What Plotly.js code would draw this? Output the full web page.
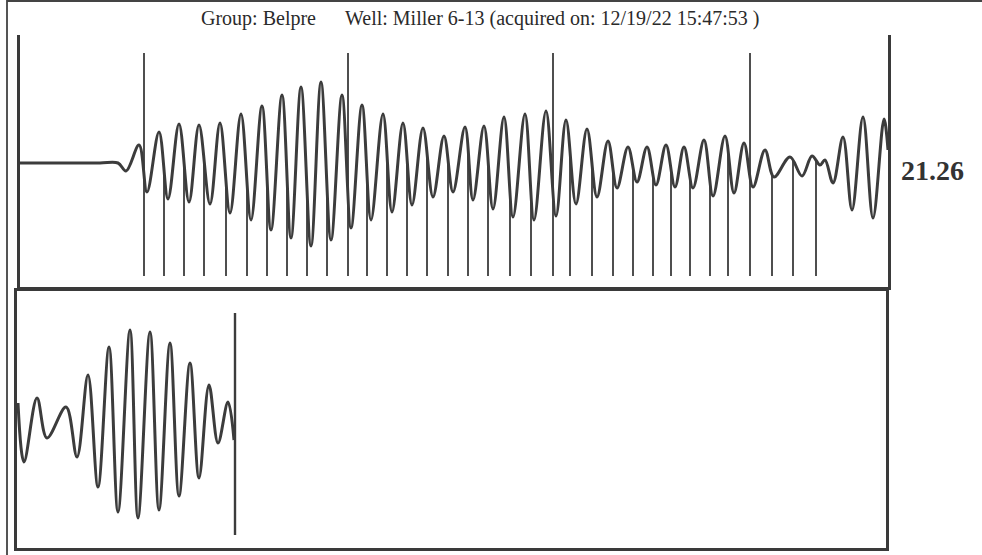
<!DOCTYPE html>
<html><head><meta charset="utf-8">
<script src="https://cdn.plot.ly/plotly-3.0.1.min.js"></script>
<style>html,body{margin:0;padding:0;background:#fff}#chart{width:982px;height:555px}</style>
</head><body><div id="chart"></div>
<script>
// ---- Data (sample position, amplitude) ----
// Upper panel: acoustic shot trace (extreme points of the waveform)
const topX = [0,40,80,98,106,119,127,139,148,159,169,179,190,200,210,221,231,242,251,262,271,281,291,301,311,322,331,342,351,363,372,383,392,403,413,424,433,445,453,464,473,484,493,505,514,526,536,546,556,567,577,588,597,608,617,627,636,646,655,664,673,684,693,705,714,724,733,745,754,770,782,792,800,805,813,823,832,843,853,864,868];
const topY = [0,0,0,0,-8,18,-29,31,-36,39,-39,38,-41,40,-50,49,-57,57,-67,68,-75,76,-83,81,-77,68,-65,58,-57,49,-49,40,-42,35,-34,27,-29,36,-37,37,-46,46,-54,49,-57,52,-53,43,-41,34,-34,22,-25,16,-19,16,-22,18,-24,16,-25,23,-33,27,-30,20,-24,13,-14,6,-13,7,-2,3,-20,26,-47,46,-55,44,13];
// Upper panel: collar (joint) markers
const jointShortX = [144,164,184,206,227,247,267,287,307,347,367,387,407,428,448,468,490,511,550,572,593,613,633,651,670,690,708,752,773,796];
const jointTallX = [124,328,533,730];
const jointBottom = -113;
const jointTallTop = 110;
// Lower panel: trace around the selected echo
const botX = [1,7,20,30,49,60,71,81,92,101,113,121,133,142,153,162,173,182,192,201,211,217];
const botY = [21,-38,26,-14,17,-33,49,-63,77,-88,94,-94,92,-86,81,-72,61,-54,39,-19,22,-16];
const botMarkX = [218];
const botMarkRange = [-111, 111];
// Texts
const titleGroup = "Group: Belpre";
const titleWell = "Well: Miller 6-13 (acquired on: 12/19/22 15:47:53 )";
const readout = "21.26";

// ---- helpers ----
function traceAt(xs, ys, x) {
  for (let i = 0; i < xs.length - 1; i++) {
    if (x >= xs[i] && x <= xs[i + 1]) {
      const t = (x - xs[i]) / (xs[i + 1] - xs[i]);
      return ys[i] + (ys[i + 1] - ys[i]) * (1 - Math.cos(Math.PI * t)) / 2;
    }
  }
  return ys[ys.length - 1];
}
function segs(xs, y0f, y1f) {
  const X = [], Y = [];
  xs.forEach(x => { X.push(x, x, null); Y.push(y0f(x), y1f(x), null); });
  return {X, Y};
}

const ink = '#3c3c3c';
const shortSeg = segs(jointShortX, () => jointBottom, x => traceAt(topX, topY, x));
const tallSeg = segs(jointTallX, () => jointBottom, () => jointTallTop);
const botSeg = segs(botMarkX, () => botMarkRange[0], () => botMarkRange[1]);

const data = [
  {x: shortSeg.X, y: shortSeg.Y, xaxis: 'x', yaxis: 'y', mode: 'lines', line: {color: ink, width: 1.8}, hoverinfo: 'skip'},
  {x: tallSeg.X, y: tallSeg.Y, xaxis: 'x', yaxis: 'y', mode: 'lines', line: {color: ink, width: 1.8}, hoverinfo: 'skip'},
  {x: topX, y: topY, xaxis: 'x', yaxis: 'y', mode: 'lines', line: {color: ink, width: 3, shape: 'spline', smoothing: 1}, hoverinfo: 'skip'},
  {x: botX, y: botY, xaxis: 'x2', yaxis: 'y2', mode: 'lines', line: {color: ink, width: 3, shape: 'spline', smoothing: 1}, hoverinfo: 'skip'},
  {x: botSeg.X, y: botSeg.Y, xaxis: 'x2', yaxis: 'y2', mode: 'lines', line: {color: ink, width: 2.4}, hoverinfo: 'skip'}
];

const W = 982, H = 555;
const ax = {showgrid: false, zeroline: false, showticklabels: false, ticks: '', showline: true, linecolor: '#3a3a3a', linewidth: 3, fixedrange: true};
const serif = 'Liberation Serif, Times New Roman, serif';
const layout = {
  width: W, height: H,
  margin: {l: 0, r: 0, t: 0, b: 0},
  paper_bgcolor: '#ffffff', plot_bgcolor: '#ffffff',
  showlegend: false,
  xaxis: Object.assign({}, ax, {domain: [20 / W, 888 / W], range: [0, 868], mirror: false, anchor: 'y'}),
  yaxis: Object.assign({}, ax, {domain: [1 - 287 / H, 1 - 35 / H], range: [-124, 128], mirror: true, anchor: 'x'}),
  xaxis2: Object.assign({}, ax, {domain: [17 / W, 886 / W], range: [0, 869], mirror: true, anchor: 'y2'}),
  yaxis2: Object.assign({}, ax, {domain: [1 - 548 / H, 1 - 291 / H], range: [-124, 133], mirror: true, anchor: 'x2'}),
  annotations: [
    {text: titleGroup, xref: 'paper', yref: 'paper', x: 199 / W, y: 1 - 18 / H, xanchor: 'left', yanchor: 'middle', showarrow: false,
     font: {family: serif, size: 20, color: '#2a2a2a'}},
    {text: titleWell, xref: 'paper', yref: 'paper', x: 343 / W, y: 1 - 18 / H, xanchor: 'left', yanchor: 'middle', showarrow: false,
     font: {family: serif, size: 20, color: '#2a2a2a'}},
    {text: '<b>' + readout + '</b>', xref: 'paper', yref: 'paper', x: 932 / W, y: 1 - 170 / H, xanchor: 'center', yanchor: 'middle', showarrow: false,
     font: {family: serif, size: 28, color: '#333'}}
  ],
  shapes: [
    {type: 'line', xref: 'paper', yref: 'paper', x0: 7 / W, x1: 7 / W, y0: 0, y1: 1, line: {color: '#555', width: 2}},
    {type: 'line', xref: 'paper', yref: 'paper', x0: 7 / W, x1: 1, y0: 1 - 1 / H, y1: 1 - 1 / H, line: {color: '#444', width: 2}}
  ]
};
Plotly.newPlot('chart', data, layout, {staticPlot: true, displayModeBar: false});
</script></body></html>
